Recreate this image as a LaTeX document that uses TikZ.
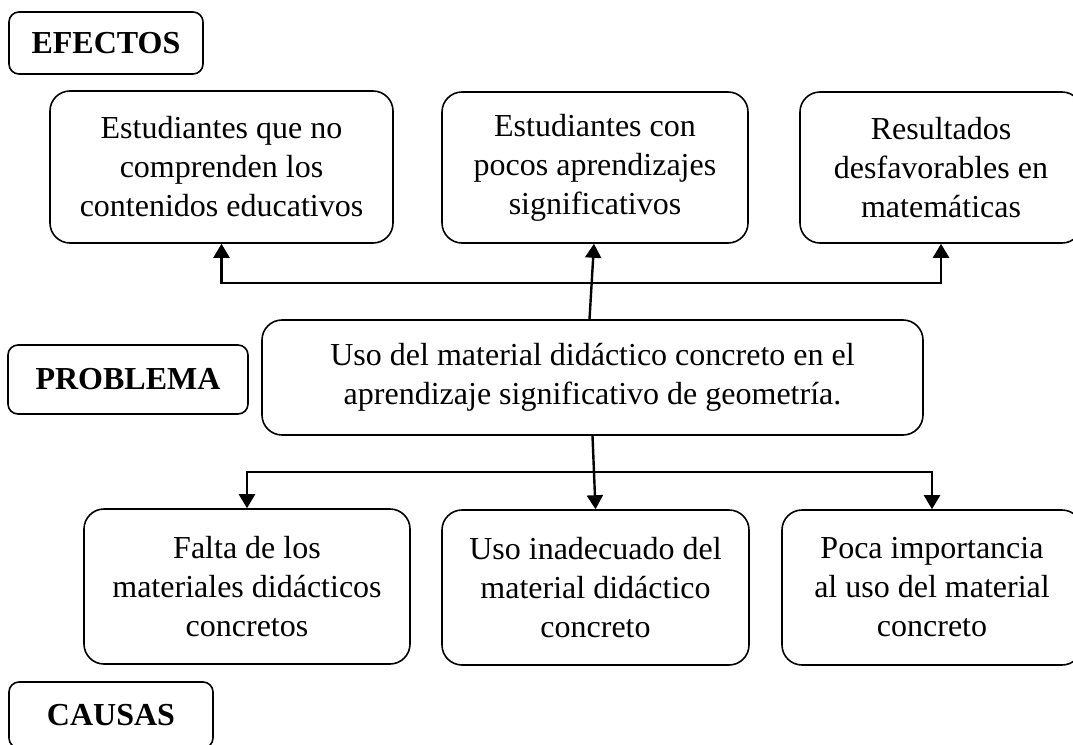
\documentclass[tikz,border=0pt]{standalone}
\usepackage{fontspec}
\setmainfont{Liberation Serif}
\usetikzlibrary{arrows.meta}
\tikzset{
  box/.style={draw, line width=1.6pt, rounded corners=20pt, align=center, inner sep=0pt,
    font=\fontsize{32}{39}\selectfont},
  lbl/.style={draw, line width=1.6pt, rounded corners=10pt, align=center, inner sep=0pt,
    font=\fontsize{32}{39}\selectfont\bfseries},
  conn/.style={line width=2.4pt, line join=miter, -{Triangle[width=16pt,length=14pt]}},
}
\begin{document}
\begin{tikzpicture}[x=1pt,y=-1pt]
\useasboundingbox (0,0) rectangle (1073,744);
\fill[white] (0,0) rectangle (1073,744);
% labels
\node[lbl, minimum width=194pt, minimum height=62pt] (efectos) at (106,43) {EFECTOS};
\node[lbl, minimum width=240pt, minimum height=69pt] (problema) at (128,379.5) {PROBLEMA};
\node[lbl, minimum width=204pt, minimum height=66pt] (causas) at (111,715) {CAUSAS};
% effects
\node[box, minimum width=343pt, minimum height=152pt] (e1) at (221.5,167) {Estudiantes que no\\comprenden los\\contenidos educativos};
\node[box, minimum width=306pt, minimum height=151pt] (e2) at (595,167.5) {Estudiantes con\\pocos aprendizajes\\significativos};
\node[box, minimum width=282pt, minimum height=151pt] (e3) at (941,167.5) {Resultados\\desfavorables en\\matemáticas};
% problem
\node[box, minimum width=661pt, minimum height=115pt] (prob) at (592.5,377.5) {Uso del material didáctico concreto en el\\aprendizaje significativo de geometría.};
% causes
\node[box, minimum width=326pt, minimum height=155pt] (c1) at (247,586.5) {Falta de los\\materiales didácticos\\concretos};
\node[box, minimum width=307pt, minimum height=155pt] (c2) at (595.5,587.5) {Uso inadecuado del\\material didáctico\\concreto};
\node[box, minimum width=300pt, minimum height=155pt] (c3) at (932,587.5) {Poca importancia\\al uso del material\\concreto};
% connectors top
\coordinate (hl) at (0,283);
\coordinate (bl) at (0,472);
\draw[conn] ([xshift=-3pt]prob.north) -- ([xshift=-1pt]e2.south);
\draw[conn] (hl -| prob.north) -- (hl -| e1.south) -- (e1.south);
\draw[conn] (hl -| prob.north) -- (hl -| e3.south) -- (e3.south);
% connectors bottom
\draw[conn] (prob.south) -- (c2.north);
\draw[conn] (bl -| prob.south) -- (bl -| c1.north) -- (c1.north);
\draw[conn] (bl -| prob.south) -- (bl -| c3.north) -- (c3.north);
\end{tikzpicture}
\end{document}
